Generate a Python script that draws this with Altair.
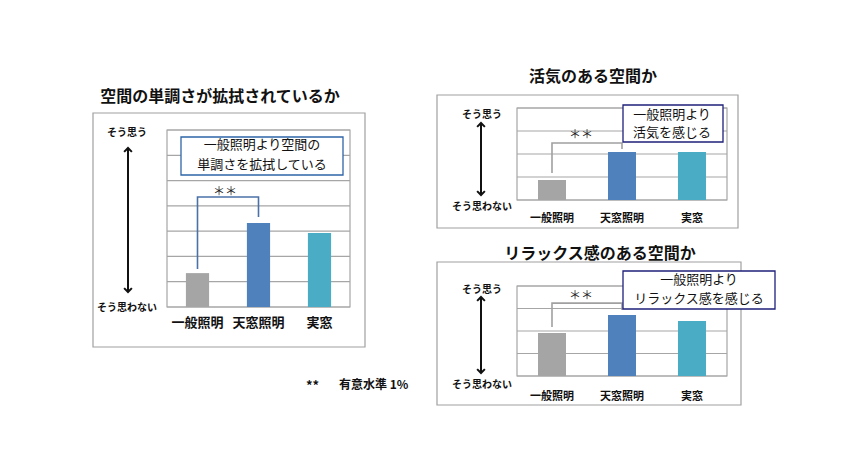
import altair as alt
import pandas as pd

# ---------------- data ----------------
categories = ["一般照明", "天窓照明", "実窓"]
bar_colors = ["#A5A5A5", "#4F81BD", "#4BACC6"]

titles = ["空間の単調さが拡拭されているか", "活気のある空間か", "リラックス感のある空間か"]
notes = ["一般照明より空間の\n単調さを拡拭している", "一般照明より\n活気を感じる", "一般照明より\nリラックス感を感じる"]

values_1 = [1.34, 3.32, 2.93]
values_2 = [0.87, 2.09, 2.09]
values_3 = [1.91, 2.71, 2.44]

scale_max = [7, 4, 4]
# significance bracket levels: left leg bottom, bracket top, right leg bottom
bracket_1 = [1.50, 4.35, 3.56]
bracket_2 = [1.17, 2.48, 2.22]
bracket_3 = [2.18, 3.24, 2.93]
star_levels = [4.55, 2.83, 3.56]

axis_top = "そう思う"
axis_bottom = "そう思わない"
sig_mark = "＊＊"
foot_mark = "**"
footnote = "有意水準  1%"

FONT = "Noto Sans CJK JP"
GRID = "#A6A6A6"
BOX = "#A0A0A0"

# ---------------- layout (pixels) ----------------
layouts = [
    dict(box=(93, 113, 365, 347), plot=(167, 350, 130, 307), pad=0.62,
         title=(220, 97), note_box=(181, 137, 343, 175), note_c=(262, 145), note_lh=20,
         note_color="#2E64A8", arrow_x=128, tips=(148, 292), lab_x=127,
         lab_top_y=133, lab_bot_y=308, cat_y=323, cat_size=13, star_x=225,
         br_color="#4A72A8"),
    dict(box=(437, 95, 738, 228), plot=(517, 727, 108, 200), pad=0.6,
         title=(593, 77), note_box=(623, 105, 723, 142), note_c=(672, 115), note_lh=18,
         note_color="#1F1F7A", arrow_x=481, tips=(123, 195), lab_x=482,
         lab_top_y=115, lab_bot_y=207, cat_y=219, cat_size=11, star_x=581,
         br_color="#A0A0A0"),
    dict(box=(437, 262, 741, 405), plot=(517, 727, 286, 376), pad=0.6,
         title=(600, 254), note_box=(623, 271, 775, 309), note_c=(699, 280), note_lh=19,
         note_color="#1F1F7A", arrow_x=481, tips=(297, 373), lab_x=482,
         lab_top_y=290, lab_bot_y=385, cat_y=397, cat_size=11, star_x=581,
         br_color="#A0A0A0"),
]

one = pd.DataFrame({"_": [0]})


def panel(vals, ymax, bracket, star_y, title, note, L):
    x0, x1, yt, yb = L["plot"]
    xs = alt.Scale(domain=categories, range=[x0, x1], paddingInner=L["pad"], paddingOuter=L["pad"] / 2)
    ys = alt.Scale(domain=[0, ymax], range=[yb, yt], nice=False, zero=True)
    X = lambda f: alt.X(f, type="nominal", scale=xs, axis=None, sort=categories)
    Y = lambda f: alt.Y(f, type="quantitative", scale=ys, axis=None)

    bx0, by0, bx1, by1 = L["box"]
    outer = alt.Chart(one).mark_rect(fill="white", stroke=BOX, strokeWidth=1.2).encode(
        x=alt.value(bx0), x2=alt.value(bx1), y=alt.value(by0), y2=alt.value(by1))

    grid = alt.Chart(pd.DataFrame({"g": list(range(0, ymax + 1))})).mark_rule(
        color=GRID, strokeWidth=1.2).encode(y=Y("g"), x=alt.value(x0), x2=alt.value(x1))
    sides = alt.Chart(one).mark_rect(fill=None, stroke=GRID, strokeWidth=1.2).encode(
        x=alt.value(x0), x2=alt.value(x1), y=alt.value(yt), y2=alt.value(yb))

    df = pd.DataFrame({"cat": categories, "v": vals})
    bars = alt.Chart(df).mark_bar().encode(
        x=X("cat"), y=Y("v"),
        color=alt.Color("cat:N", scale=alt.Scale(domain=categories, range=bar_colors), legend=None))

    bdf = pd.DataFrame({"o": [0, 1, 2, 3],
                        "cat": [categories[0], categories[0], categories[1], categories[1]],
                        "y": [bracket[0], bracket[1], bracket[1], bracket[2]]})
    br = alt.Chart(bdf).mark_line(color=L["br_color"], strokeWidth=1.6).encode(
        x=X("cat"), y=Y("y"), order="o:Q")

    stars = alt.Chart(pd.DataFrame({"y": [star_y], "t": [sig_mark]})).mark_text(
        font=FONT, fontSize=12, baseline="middle", color="#222").encode(
        x=alt.value(L["star_x"]), y=Y("y"), text="t:N")

    cats = alt.Chart(df).mark_text(font=FONT, fontSize=L["cat_size"], fontWeight="bold",
                                   baseline="middle", color="#111").encode(
        x=X("cat"), y=alt.value(L["cat_y"]), text="cat:N")

    nx0, ny0, nx1, ny1 = L["note_box"]
    nbox = alt.Chart(one).mark_rect(fill="white", stroke=L["note_color"], strokeWidth=1.3).encode(
        x=alt.value(nx0), x2=alt.value(nx1), y=alt.value(ny0), y2=alt.value(ny1))
    ntext = alt.Chart(pd.DataFrame({"t": [note]})).mark_text(
        font=FONT, fontSize=13, lineBreak="\n", lineHeight=L["note_lh"], baseline="middle",
        color="#111").encode(x=alt.value(L["note_c"][0]), y=alt.value(L["note_c"][1]), text="t:N")

    ttl = alt.Chart(pd.DataFrame({"t": [title]})).mark_text(
        font=FONT, fontSize=16, fontWeight="bold", baseline="middle", color="#111").encode(
        x=alt.value(L["title"][0]), y=alt.value(L["title"][1]), text="t:N")

    ax = L["arrow_x"]
    t0, t1 = L["tips"]
    shaft = alt.Chart(one).mark_rule(color="#111", strokeWidth=2).encode(
        x=alt.value(ax), y=alt.value(t0 + 1), y2=alt.value(t1 - 1))
    head_up = alt.Chart(one).mark_point(shape="M-1,1L0,0L1,1", filled=False, size=60,
                                        stroke="#111", strokeWidth=2, opacity=1).encode(
        x=alt.value(ax), y=alt.value(t0))
    head_dn = alt.Chart(one).mark_point(shape="M-1,-1L0,0L1,-1", filled=False, size=60,
                                        stroke="#111", strokeWidth=2, opacity=1).encode(
        x=alt.value(ax), y=alt.value(t1))
    labs = alt.Chart(pd.DataFrame({"t": [axis_top, axis_bottom],
                                   "yy": [L["lab_top_y"], L["lab_bot_y"]]})).mark_text(
        font=FONT, fontSize=10, fontWeight="bold", baseline="middle", color="#111").encode(
        x=alt.value(L["lab_x"]), y=alt.Y("yy:Q", scale=None, axis=None), text="t:N")

    return alt.layer(outer, grid, sides, bars, br, stars, cats, nbox, ntext, ttl,
                     shaft, head_up, head_dn, labs)


p1 = panel(values_1, scale_max[0], bracket_1, star_levels[0], titles[0], notes[0], layouts[0])
p2 = panel(values_2, scale_max[1], bracket_2, star_levels[1], titles[1], notes[1], layouts[1])
p3 = panel(values_3, scale_max[2], bracket_3, star_levels[2], titles[2], notes[2], layouts[2])

foot1 = alt.Chart(pd.DataFrame({"t": [foot_mark]})).mark_text(
    font=FONT, fontSize=13, fontWeight="bold", align="left", baseline="middle", color="#111").encode(
    x=alt.value(306), y=alt.value(386), text="t:N")
foot2 = alt.Chart(pd.DataFrame({"t": [footnote]})).mark_text(
    font=FONT, fontSize=12, fontWeight="bold", align="left", baseline="middle", color="#111").encode(
    x=alt.value(339), y=alt.value(385), text="t:N")

chart = alt.layer(p1, p2, p3, foot1, foot2).resolve_scale(
    x="independent", y="independent"
).properties(
    width=850, height=470, autosize=alt.AutoSizeParams(type="none"), padding=0,
    background="white"
).configure_view(stroke=None)

chart.save("out.html", embed_options={"renderer": "svg", "actions": False})
